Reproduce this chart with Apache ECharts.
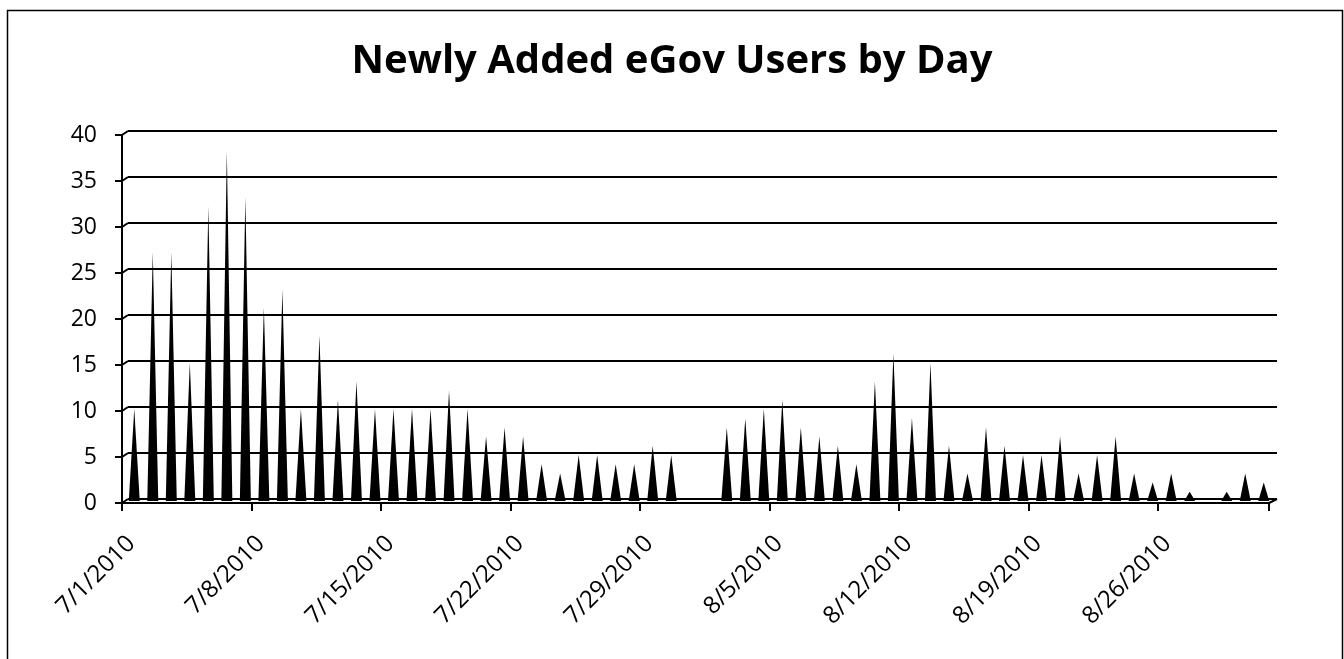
<!DOCTYPE html>
<html><head><meta charset="utf-8">
<script src="https://cdn.jsdelivr.net/npm/echarts@6/dist/echarts.min.js"></script>
<style>html,body{margin:0;padding:0;background:#fff}#c{width:1344px;height:659px}</style>
</head><body><div id="c"></div>
<script>
const titleText = 'Newly Added eGov Users by Day';
const days = [
 '7/1/2010','7/2/2010','7/3/2010','7/4/2010','7/5/2010','7/6/2010','7/7/2010','7/8/2010','7/9/2010','7/10/2010',
 '7/11/2010','7/12/2010','7/13/2010','7/14/2010','7/15/2010','7/16/2010','7/17/2010','7/18/2010','7/19/2010','7/20/2010',
 '7/21/2010','7/22/2010','7/23/2010','7/24/2010','7/25/2010','7/26/2010','7/27/2010','7/28/2010','7/29/2010','7/30/2010',
 '7/31/2010','8/1/2010','8/2/2010','8/3/2010','8/4/2010','8/5/2010','8/6/2010','8/7/2010','8/8/2010','8/9/2010',
 '8/10/2010','8/11/2010','8/12/2010','8/13/2010','8/14/2010','8/15/2010','8/16/2010','8/17/2010','8/18/2010','8/19/2010',
 '8/20/2010','8/21/2010','8/22/2010','8/23/2010','8/24/2010','8/25/2010','8/26/2010','8/27/2010','8/28/2010','8/29/2010',
 '8/30/2010','8/31/2010'
];
const newUsers = [
 10,27,27,15,32,38,33,21,23,10,
 18,11,13,10,10,10,10,12,10,7,
 8,7,4,3,5,5,4,4,6,5,
 0,0,8,9,10,11,8,7,6,4,
 13,16,9,15,6,3,8,6,5,5,
 7,3,5,7,3,2,3,1,0,1,
 3,2
];
const yMin = 0, yMax = 40, yStep = 5;
const labelEvery = 7;

const font = '"Open Sans", "DejaVu Sans", sans-serif';
const chart = echarts.init(document.getElementById('c'), null, {renderer: 'canvas'});
const hiddenX = (gi) => ({type:'category', gridIndex:gi, data:days, boundaryGap:true,
  axisLine:{show:false}, axisTick:{show:false}, axisLabel:{show:false}, splitLine:{show:false}});
const hiddenY = (gi, grid) => ({type:'value', gridIndex:gi, min:yMin, max:yMax, interval:yStep,
  axisLine:{show:false}, axisTick:{show:false}, axisLabel:{show:false},
  splitLine:{show:grid, lineStyle:{color:'#000', width:2}}});

chart.setOption({
  backgroundColor:'#fff',
  animation:false,
  title:{text:titleText, left:'center', top:37,
    textStyle:{fontFamily:font, fontWeight:'bold', fontSize:40, color:'#000'}},
  grid:[
    {left:128, right:67, top:131, bottom:160},   // back wall
    {left:122, right:75, top:135, bottom:156},   // front axes
    {left:125, right:71, top:133, bottom:158}    // cones (mid depth)
  ],
  xAxis:[
    hiddenX(0),
    {type:'category', gridIndex:1, data:days, boundaryGap:true,
      axisLine:{show:true, lineStyle:{color:'#000', width:2}},
      axisTick:{show:true, interval:labelEvery-1, length:8, lineStyle:{color:'#000', width:2}},
      axisLabel:{show:true, interval:labelEvery-1, rotate:45, margin:37,
        fontFamily:font, fontSize:24, color:'#000'},
      splitLine:{show:false}},
    hiddenX(2)
  ],
  yAxis:[
    hiddenY(0, true),
    {type:'value', gridIndex:1, min:yMin, max:yMax, interval:yStep,
      axisLine:{show:true, lineStyle:{color:'#000', width:2}},
      axisTick:{show:true, length:7, lineStyle:{color:'#000', width:2}},
      axisLabel:{show:true, margin:25, fontFamily:font, fontSize:23, color:'#000'},
      splitLine:{show:false}},
    hiddenY(2, false)
  ],
  series:[{
    type:'pictorialBar', xAxisIndex:2, yAxisIndex:2,
    data:newUsers,
    symbol:'path://M0,100 L5,0 L10,100 Z',
    symbolSize:[11,'100%'],
    symbolPosition:'start',
    itemStyle:{color:'#000'},
    silent:true
  }]
});

// 3D wall/floor joins: connect front axis to back wall at every y tick, and the floor ends
const g = [{type:'rect', shape:{x:7.5, y:10.5, width:1335, height:660},
  style:{fill:'none', stroke:'#000', lineWidth:1.5}, silent:true}];
const joinStyle = {stroke:'#000', lineWidth:2};
const frontRect = chart.getModel().getComponent('grid', 1).coordinateSystem.getRect();
const backRect = chart.getModel().getComponent('grid', 0).coordinateSystem.getRect();
for (let v = yMin; v <= yMax; v += yStep) {
  const f = chart.convertToPixel({gridIndex:1}, [0, v]);
  const b = chart.convertToPixel({gridIndex:0}, [0, v]);
  g.push({type:'line', silent:true, shape:{x1:frontRect.x, y1:f[1], x2:backRect.x, y2:b[1]}, style:joinStyle});
}
g.push({type:'line', silent:true, shape:{
  x1:frontRect.x+frontRect.width, y1:frontRect.y+frontRect.height,
  x2:backRect.x+backRect.width, y2:backRect.y+backRect.height}, style:joinStyle});
chart.setOption({graphic:g});
</script></body></html>
